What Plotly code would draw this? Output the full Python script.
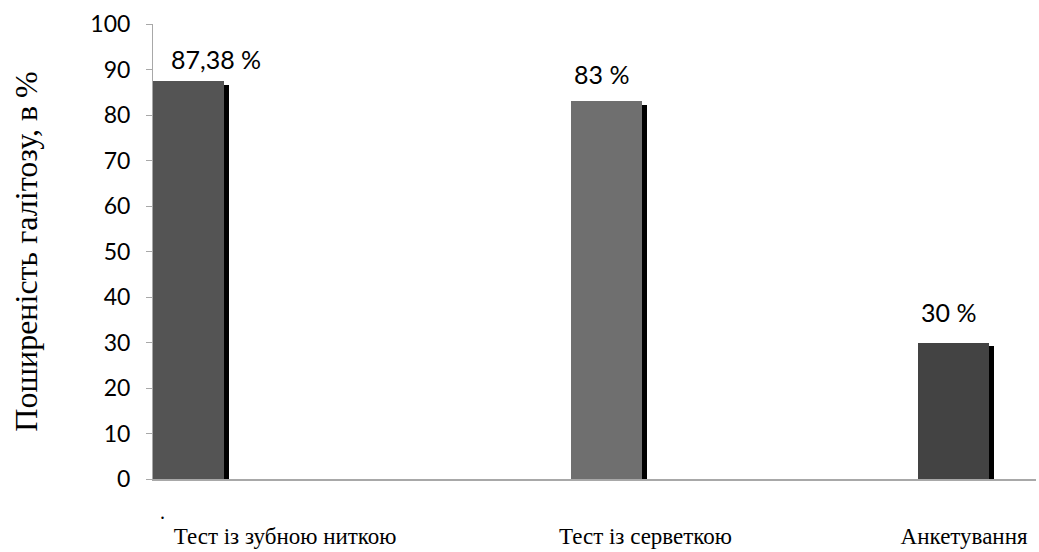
import plotly.graph_objects as go

# ---- data ----
categories = ["Тест із зубною ниткою", "Тест із серветкою", "Анкетування"]
values = [87.38, 83, 30]
value_labels = ["87,38 %", "83 %", "30 %"]
y_ticks = [0, 10, 20, 30, 40, 50, 60, 70, 80, 90, 100]
y_title = "Поширеність галітозу, в %"

# ---- layout / style (positions in axis units) ----
bar_pos = [0.0, 1.0, 1.83]
label_pos = [0.231, 1.093, 1.855]
bar_width = 0.17
bar_colors = ["#545454", "#6f6f6f", "#434343"]
shadow_dx = 0.012
shadow_dy = 0.87
label_xshift = [16, 1, 1]
label_yshift = [22, 27, 31]

fig = go.Figure()

# shadow bars (behind)
fig.add_trace(go.Bar(
    x=[p + shadow_dx for p in bar_pos],
    y=[v - shadow_dy for v in values],
    width=bar_width,
    marker=dict(color="#000000", line=dict(width=0)),
    hoverinfo="skip",
    showlegend=False,
))
# main bars
fig.add_trace(go.Bar(
    x=bar_pos,
    y=values,
    width=bar_width,
    marker=dict(color=bar_colors, line=dict(width=0)),
    showlegend=False,
))

annotations = []
for p, v, t, xs, ys in zip(bar_pos, values, value_labels, label_xshift, label_yshift):
    annotations.append(dict(
        x=p - bar_width / 2, y=v, xref="x", yref="y",
        text=t, showarrow=False, xanchor="left", yanchor="middle",
        xshift=xs, yshift=ys,
        font=dict(family="Lato", size=25, color="#000000"),
    ))
annotations.append(dict(
    x=0.0102, y=-0.072, xref="paper", yref="paper", text=".",
    showarrow=False, xanchor="center", yanchor="middle",
    font=dict(family="Liberation Serif", size=20, color="#000000"),
))

fig.update_layout(
    width=1039, height=552,
    margin=dict(l=153, r=3, t=24, b=67),
    paper_bgcolor="#ffffff", plot_bgcolor="#ffffff",
    barmode="overlay",
    bargap=0,
    annotations=annotations,
    xaxis=dict(
        range=[-0.085, 2.027],
        tickvals=label_pos,
        ticktext=categories,
        showgrid=False, zeroline=False,
        showline=True, linecolor="#a8a8a8", linewidth=2,
        ticks="", ticklabelstandoff=35,
        tickfont=dict(family="Liberation Serif", size=23, color="#000000"),
    ),
    yaxis=dict(
        range=[0, 100],
        tickvals=y_ticks,
        showgrid=False, zeroline=False,
        showline=True, linecolor="#a8a8a8", linewidth=1,
        ticks="outside", ticklen=6, tickcolor="#a8a8a8",
        ticklabelstandoff=11,
        tickfont=dict(family="Lato", size=23, color="#000000"),
        title=dict(text=y_title, standoff=43,
                   font=dict(family="Liberation Serif", size=32, color="#000000")),
    ),
)

fig.write_html("out.html")
